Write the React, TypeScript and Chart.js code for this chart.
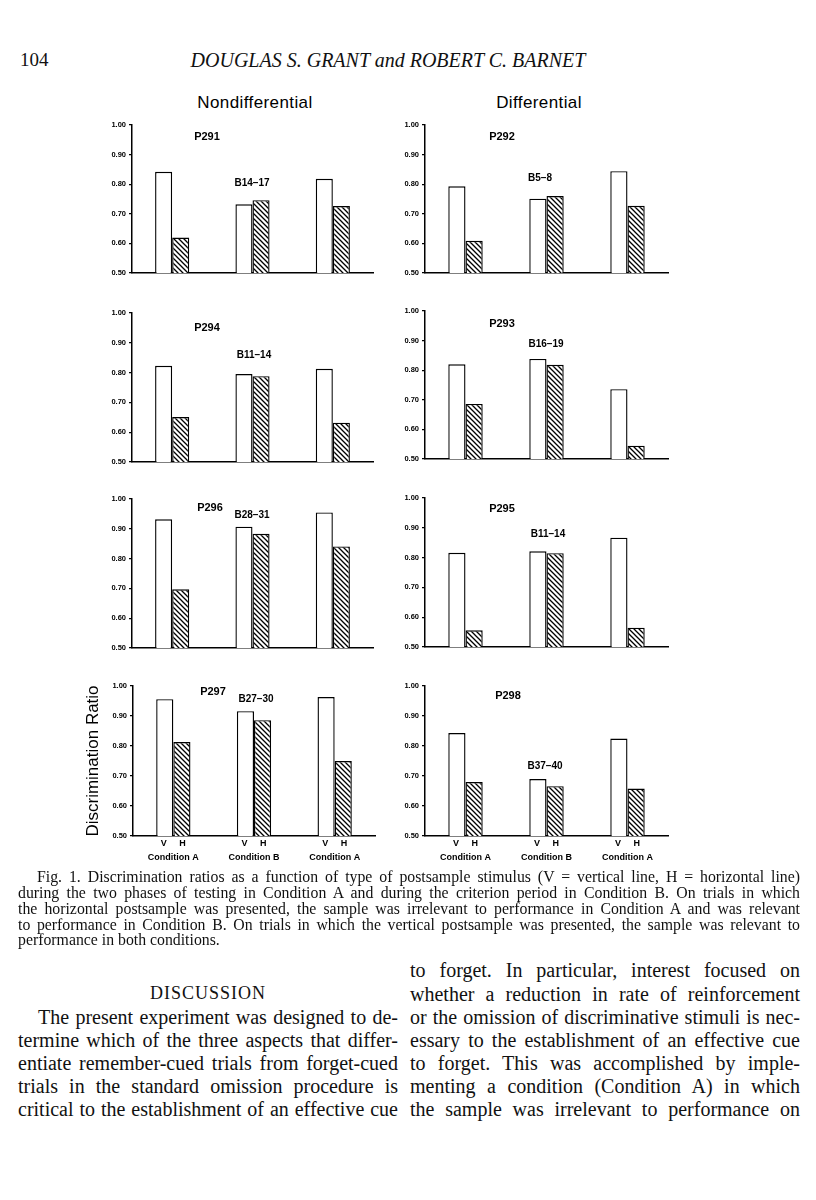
import React, { useEffect, useRef } from 'react';
import { Chart, registerables } from 'chart.js';
Chart.register(...registerables);

// ---------------- data ----------------
const CONDITIONS = ['Condition A', 'Condition B', 'Condition A'];
const BAR_KEYS = ['V', 'H'];
const Y_MIN = 0.5;
const Y_MAX = 1.0;
const Y_STEP = 0.1;

const SUBJECTS = ['P291', 'P292', 'P294', 'P293', 'P296', 'P295', 'P297', 'P298'];
const BLOCKS = ['B14–17', 'B5–8', 'B11–14', 'B16–19', 'B28–31', 'B11–14', 'B27–30', 'B37–40'];

const vertP291 = [0.842, 0.732, 0.818];
const horizP291 = [0.62, 0.746, 0.726];
const vertP292 = [0.793, 0.751, 0.844];
const horizP292 = [0.609, 0.76, 0.727];
const vertP294 = [0.823, 0.795, 0.813];
const horizP294 = [0.651, 0.788, 0.632];
const vertP293 = [0.82, 0.838, 0.736];
const horizP293 = [0.686, 0.818, 0.545];
const vertP296 = [0.932, 0.907, 0.955];
const horizP296 = [0.697, 0.883, 0.841];
const vertP295 = [0.816, 0.821, 0.867];
const horizP295 = [0.556, 0.815, 0.565];
const vertP297 = [0.956, 0.916, 0.963];
const horizP297 = [0.813, 0.886, 0.75];
const vertP298 = [0.843, 0.69, 0.825];
const horizP298 = [0.68, 0.666, 0.658];

const V_SERIES = [vertP291, vertP292, vertP294, vertP293, vertP296, vertP295, vertP297, vertP298];
const H_SERIES = [horizP291, horizP292, horizP294, horizP293, horizP296, horizP295, horizP297, horizP298];

// ---------------- layout ----------------
const BOXES = [
  { axisX: 132, right: 373, top: 125, base: 273, sx: 207, sy: 136, bx: 252, by: 182 },
  { axisX: 425, right: 668, top: 125, base: 273, sx: 502, sy: 136, bx: 540, by: 177 },
  { axisX: 132, right: 373, top: 313, base: 462, sx: 207, sy: 327, bx: 254, by: 354 },
  { axisX: 425, right: 668, top: 311, base: 459, sx: 502, sy: 323, bx: 546, by: 343 },
  { axisX: 132, right: 373, top: 499, base: 648, sx: 210, sy: 507, bx: 252, by: 514 },
  { axisX: 425, right: 668, top: 498, base: 647, sx: 502, sy: 508, bx: 548, by: 533 },
  { axisX: 133, right: 375, top: 686, base: 836, sx: 213, sy: 691, bx: 256, by: 698 },
  { axisX: 425, right: 668, top: 686, base: 836, sx: 508, sy: 695, bx: 545, by: 765 },
];

const SANS = "'Liberation Sans', Arial, sans-serif";
const SERIF = "'Liberation Serif', 'Times New Roman', serif";

function makeHatch(): CanvasPattern | string {
  const s = 5;
  const c = document.createElement('canvas');
  c.width = s;
  c.height = s;
  const g = c.getContext('2d');
  if (!g) return '#fff';
  g.fillStyle = '#fff';
  g.fillRect(0, 0, s, s);
  g.strokeStyle = '#000';
  g.lineWidth = 1.3;
  g.beginPath();
  g.moveTo(-1, -1);
  g.lineTo(s + 1, s + 1);
  g.moveTo(-1, s - 1);
  g.lineTo(1, s + 1);
  g.moveTo(s - 1, -1);
  g.lineTo(s + 1, 1);
  g.stroke();
  return g.createPattern(c, 'repeat') || '#fff';
}

function Panel({ idx }: { idx: number }) {
  const ref = useRef<HTMLCanvasElement>(null);
  const b = BOXES[idx];
  const bottomRow = idx >= 6;
  const withTitle = idx === 6;
  const yW = withTitle ? 52 : 30;
  const padTop = 8;
  const padRight = 3;
  const padBottom = 3;
  const xH = bottomRow ? 32 : 0;
  const w = yW + (b.right - b.axisX) + padRight;
  const h = padTop + (b.base - b.top) + xH + padBottom;

  useEffect(() => {
    if (!ref.current) return;
    const chart = new Chart(ref.current, {
      type: 'bar',
      data: {
        labels: CONDITIONS,
        datasets: [
          {
            label: BAR_KEYS[0],
            data: V_SERIES[idx],
            backgroundColor: '#fff',
            borderColor: '#000',
            borderWidth: 1.4,
            borderSkipped: 'bottom',
          },
          {
            label: BAR_KEYS[1],
            data: H_SERIES[idx],
            backgroundColor: makeHatch() as any,
            borderColor: '#000',
            borderWidth: 1.4,
            borderSkipped: 'bottom',
          },
        ],
      },
      options: {
        responsive: false,
        animation: false,
        devicePixelRatio: 1,
        layout: { padding: { top: padTop, right: padRight, bottom: padBottom, left: 0 } },
        plugins: { legend: { display: false }, tooltip: { enabled: false } },
        datasets: { bar: { categoryPercentage: 0.425, barPercentage: 1 } },
        scales: {
          x: {
            type: 'category',
            offset: true,
            grid: { display: false, drawTicks: false },
            border: { display: true, color: '#000', width: 1.5 },
            ticks: {
              display: bottomRow,
              padding: 0,
              autoSkip: false,
              maxRotation: 0,
              minRotation: 0,
              color: '#000',
              font: { family: SANS, size: 9, weight: 'bold', lineHeight: 1.6 },
              callback: (_v: any, i: number) => [`${BAR_KEYS[0]}     ${BAR_KEYS[1]}`, CONDITIONS[i]],
            },
            afterFit: (s: any) => {
              s.height = xH;
              s.paddingLeft = 0;
              s.paddingRight = 0;
              s.paddingTop = 0;
              s.paddingBottom = 0;
            },
          },
          y: {
            min: Y_MIN,
            max: Y_MAX,
            ticks: {
              stepSize: Y_STEP,
              padding: 3,
              color: '#000',
              font: { family: SANS, size: 7.5, weight: 'bold' },
              callback: (v: any) => Number(v).toFixed(2),
            },
            grid: { drawOnChartArea: false, drawTicks: true, tickLength: 3, color: '#000', lineWidth: 1.2 },
            border: { display: true, color: '#000', width: 1.5 },
            title: withTitle
              ? {
                  display: true,
                  text: 'Discrimination Ratio',
                  color: '#000',
                  font: { family: SANS, size: 17 },
                  padding: { top: 2, bottom: 0 },
                }
              : { display: false },
            afterFit: (s: any) => {
              s.width = yW;
              s.paddingLeft = 0;
              s.paddingRight = 0;
              s.paddingTop = 0;
              s.paddingBottom = 0;
            },
          },
        },
      } as any,
    });
    return () => chart.destroy();
  }, []);

  return (
    <>
      <canvas
        ref={ref}
        width={w}
        height={h}
        style={{ position: 'absolute', left: b.axisX - yW, top: b.top - padTop, width: w, height: h }}
      />
      <div style={{ ...center(b.sx, b.sy), font: `bold 11px ${SANS}` }}>{SUBJECTS[idx]}</div>
      <div style={{ ...center(b.bx, b.by), font: `bold 10px ${SANS}` }}>{BLOCKS[idx]}</div>
    </>
  );
}

function center(x: number, y: number): React.CSSProperties {
  return {
    position: 'absolute',
    left: x,
    top: y,
    transform: 'translate(-50%, -50%)',
    whiteSpace: 'nowrap',
    color: '#000',
  };
}

function TextLine({
  x,
  w,
  y,
  text,
  size,
  justify = true,
}: {
  x: number;
  w: number;
  y: number;
  text: string;
  size: number;
  justify?: boolean;
}) {
  return (
    <div
      style={{
        position: 'absolute',
        left: x,
        width: w,
        top: y - 12,
        height: 24,
        lineHeight: '24px',
        fontFamily: SERIF,
        fontSize: size,
        color: '#111',
        whiteSpace: 'nowrap',
        textAlign: justify ? 'justify' : 'left',
        textAlignLast: justify ? 'justify' : 'left',
      } as React.CSSProperties}
    >
      {text}
    </div>
  );
}

const CAPTION = [
  { x: 37, y: 877, t: 'Fig. 1.   Discrimination ratios as a function of type of postsample stimulus (V = vertical line, H = horizontal line)', j: true },
  { x: 18, y: 893, t: 'during the two phases of testing in Condition A and during the criterion period in Condition B. On trials in which', j: true },
  { x: 18, y: 909, t: 'the horizontal postsample was presented, the sample was irrelevant to performance in Condition A and was relevant', j: true },
  { x: 18, y: 925, t: 'to performance in Condition B. On trials in which the vertical postsample was presented, the sample was relevant to', j: true },
  { x: 18, y: 940, t: 'performance in both conditions.', j: false },
];

const LEFT_COL = [
  { x: 38, y: 1017, t: 'The present experiment was designed to de-' },
  { x: 18, y: 1040, t: 'termine which of the three aspects that differ-' },
  { x: 18, y: 1063, t: 'entiate remember-cued trials from forget-cued' },
  { x: 18, y: 1086, t: 'trials in the standard omission procedure is' },
  { x: 18, y: 1109, t: 'critical to the establishment of an effective cue' },
];

const RIGHT_COL = [
  { y: 970, t: 'to forget. In particular, interest focused on' },
  { y: 994, t: 'whether a reduction in rate of reinforcement' },
  { y: 1017, t: 'or the omission of discriminative stimuli is nec-' },
  { y: 1040, t: 'essary to the establishment of an effective cue' },
  { y: 1063, t: 'to forget. This was accomplished by imple-' },
  { y: 1086, t: 'menting a condition (Condition A) in which' },
  { y: 1109, t: 'the sample was irrelevant to performance on' },
];

export default function App() {
  return (
    <div style={{ position: 'absolute', left: 0, top: 0, width: 816, height: 1200, background: '#fff', overflow: 'hidden' }}>
      <div style={{ position: 'absolute', left: 20, top: 49, fontFamily: SERIF, fontSize: 19, color: '#111' }}>104</div>
      <div style={{ ...center(388, 60), fontFamily: SERIF, fontStyle: 'italic', fontSize: 20, color: '#111' }}>
        DOUGLAS S. GRANT and ROBERT C. BARNET
      </div>
      <div style={{ ...center(255, 103), fontFamily: SANS, fontSize: 17, letterSpacing: 0.4 }}>Nondifferential</div>
      <div style={{ ...center(539, 103), fontFamily: SANS, fontSize: 17, letterSpacing: 0.4 }}>Differential</div>

      {BOXES.map((_, i) => (
        <Panel key={i} idx={i} />
      ))}

      {CAPTION.map((l, i) => (
        <TextLine key={'c' + i} x={l.x} w={800 - l.x} y={l.y} text={l.t} size={15.8} justify={l.j} />
      ))}

      <div style={{ ...center(208, 993), fontFamily: SERIF, fontSize: 18, letterSpacing: 1, color: '#111' }}>DISCUSSION</div>

      {LEFT_COL.map((l, i) => (
        <TextLine key={'l' + i} x={l.x} w={398 - l.x} y={l.y} text={l.t} size={20} />
      ))}
      {RIGHT_COL.map((l, i) => (
        <TextLine key={'r' + i} x={410} w={390} y={l.y} text={l.t} size={20} />
      ))}
    </div>
  );
}
